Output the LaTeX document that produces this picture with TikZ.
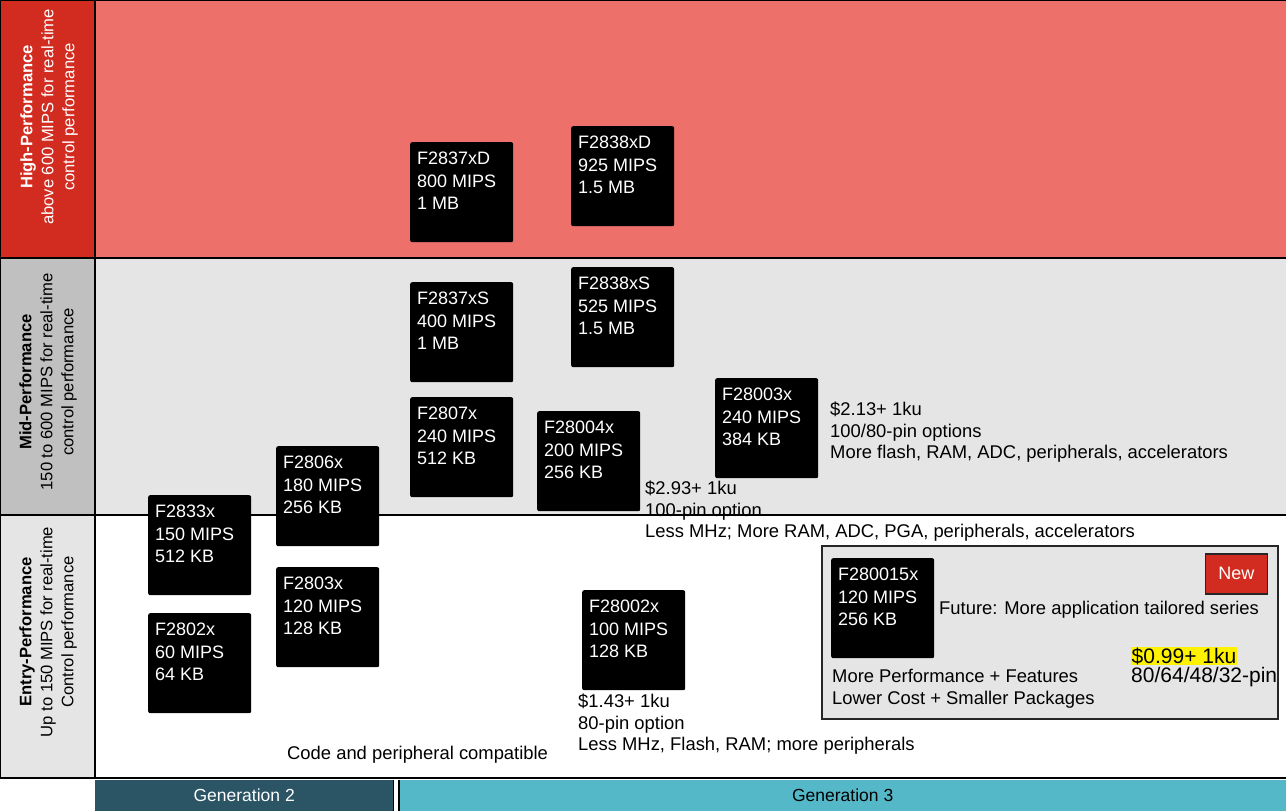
\documentclass[tikz,border=0pt]{standalone}
\usepackage{fontspec}
\setmainfont{Liberation Sans}
\usetikzlibrary{positioning, calc}

\definecolor{hiband}{HTML}{EE706B}
\definecolor{hitab}{HTML}{D22B20}
\definecolor{midband}{HTML}{E5E5E5}
\definecolor{midtab}{HTML}{C0C0C0}
\definecolor{gentwo}{HTML}{2B5465}
\definecolor{genthree}{HTML}{55B8C8}

\begin{document}
\begin{tikzpicture}[
  x=1pt, y=-1pt,
  font=\fontsize{18}{22.5}\selectfont,
  band/.style={line width=1.5pt},
  chip/.style={fill=black, rounded corners=2pt, minimum width=103pt,
    minimum height=100pt, anchor=north west, inner sep=0pt},
  chiptxt/.style={text=white, align=left, anchor=north west, inner sep=0pt},
  note/.style={align=left, anchor=north west, inner sep=0pt,
    font=\fontsize{18.4}{21.5}\selectfont},
  tab/.style={rotate=90, align=center, inner sep=0pt,
    font=\fontsize{16.6}{21}\selectfont},
  genbar/.style={anchor=north west, inner sep=0pt, minimum height=31pt,
    font=\fontsize{17.5}{20}\selectfont},
]
  \useasboundingbox (0,0) rectangle (1286,811);

  % Bands
  \fill[hiband]  (95,0)   rectangle (1286,258);
  \fill[midband] (95,258) rectangle (1286,515);
  \fill[hitab]   (0,0)    rectangle (95,258);
  \fill[midtab]  (0,258)  rectangle (95,515);
  \fill[midband] (0,515)  rectangle (95,778);
  \draw[band] (1286,0) -- (0,0) -- (0,778) -- (1286,778);
  \draw[band] (95,0) -- (95,778);
  \draw[band] (0,258) -- (1286,258);
  \draw[band] (0,515) -- (1286,515);

  % Band labels
  \node[tab, text=white] (tabhi) at (49,117)
    {\textbf{High-Performance}\\above 600 MIPS for real-time\\control performance};
  \node[tab] (tabmid) at (48,382)
    {\textbf{Mid-Performance}\\150 to 600 MIPS for real-time\\control performance};
  \node[tab] (tabentry) at (48,632)
    {\textbf{Entry-Performance}\\Up to 150 MIPS for real-time\\Control performance};

  % Generations
  \node[genbar, fill=gentwo, text=white, minimum width=298pt] (gen2) at (95,780) {Generation 2};
  \node[genbar, fill=genthree, minimum width=887pt] (gen3) at (399,780) {Generation 3};
  \draw[line width=1.2pt] (gen2.north east) -- (gen2.south east);
  \draw[line width=1.2pt] (gen3.north west) -- (gen3.south west);

  % New series frame
  \node[draw=black!85, line width=1.8pt, fill=midband, anchor=north west,
    minimum width=456pt, minimum height=173pt] (frame) at (821,545) {};
  \node[draw=black!85, line width=1.5pt, fill=hitab, text=white,
    minimum width=62pt, minimum height=40pt, anchor=north east,
    font=\fontsize{18}{20}\selectfont] (new) at (1268,553) {New};

  % Chips
  \foreach \id/\x/\y/\txt in {
      d37/410/142/{F2837xD\\800 MIPS\\1 MB},
      d38/571/126/{F2838xD\\925 MIPS\\1.5 MB},
      s37/410/282/{F2837xS\\400 MIPS\\1 MB},
      s38/571/267/{F2838xS\\525 MIPS\\1.5 MB},
      c07/410/397/{F2807x\\240 MIPS\\512 KB},
      c004/537/411/{F28004x\\200 MIPS\\256 KB},
      c003/715/378/{F28003x\\240 MIPS\\384 KB},
      c06/276/446/{F2806x\\180 MIPS\\256 KB},
      c33/148/495/{F2833x\\150 MIPS\\512 KB},
      c03/276/567/{F2803x\\120 MIPS\\128 KB},
      c02/148/613/{F2802x\\60 MIPS\\64 KB},
      c002/582/590/{F28002x\\100 MIPS\\128 KB},
      c0015/831/558/{F280015x\\120 MIPS\\256 KB}}
  {
    \node[chip] (\id) at (\x,\y) {};
    \node[chiptxt] (\id-t) at ($(\id.north west)+(7,10)$) {\txt};
  }

  % Notes
  \node[note] (n003) at (830,402) {\$2.13+ 1ku\\100/80-pin options\\More flash, RAM, ADC, peripherals, accelerators};
  \node[note] (n004) at (645,481) {\$2.93+ 1ku\\100-pin option\\Less MHz; More RAM, ADC, PGA, peripherals, accelerators};
  \node[note] (n002) at (578,694) {\$1.43+ 1ku\\80-pin option\\Less MHz, Flash, RAM; more peripherals};
  \node[note] (compat) at (287,746) {Code and peripheral compatible};
  \node[note] (future) at (939,601) {Future: More application tailored series};
  \node[note] (perf) at (832,669) {More Performance + Features\\Lower Cost + Smaller Packages};
  \node[note, fill=yellow, inner sep=0.5pt, font=\fontsize{21}{23}\selectfont] (price) at (1131,647) {\$0.99+ 1ku};
  \node[note, below=2pt of price.south west, anchor=north west,
    font=\fontsize{21}{23}\selectfont] (pins) {80/64/48/32-pin};
\end{tikzpicture}
\end{document}
